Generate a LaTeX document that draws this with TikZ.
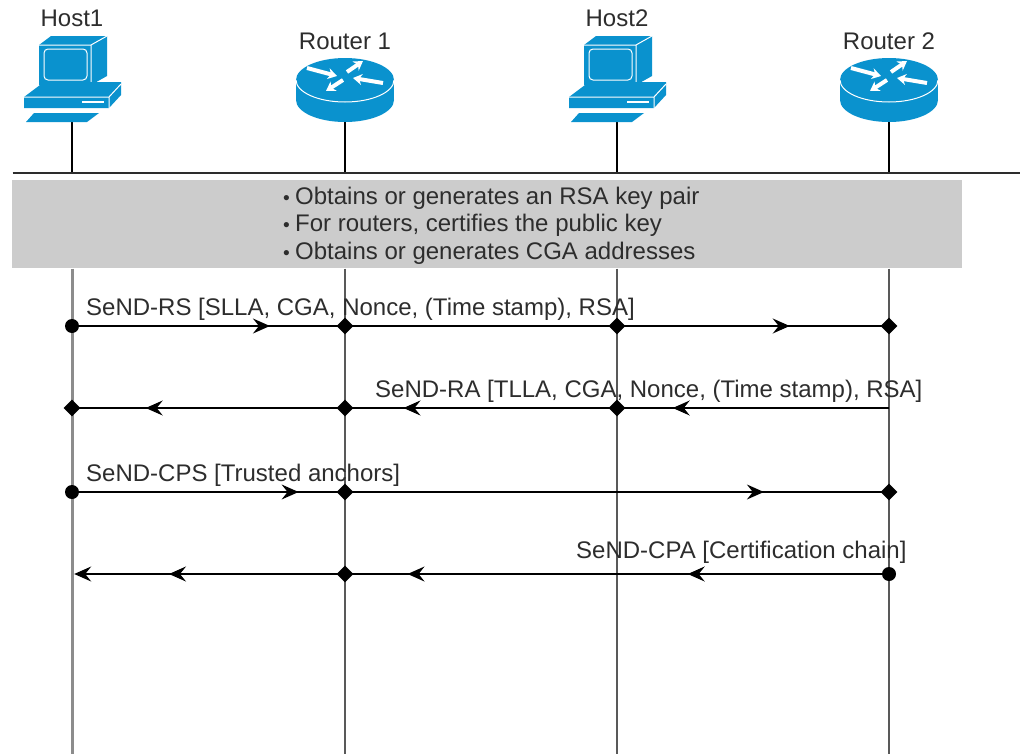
\documentclass[tikz,border=0pt]{standalone}
\usepackage{fontspec}
\setmainfont{Liberation Sans}
\usetikzlibrary{arrows.meta,decorations.markings,shapes.geometric}
\definecolor{icon}{RGB}{10,146,206}
\definecolor{band}{RGB}{204,204,204}
\definecolor{ink}{RGB}{45,45,45}
\tikzset{
  lbl/.style={inner sep=0pt,text=ink,font=\fontsize{24}{27.5}\selectfont},
  circ/.style={circle,fill=black,inner sep=0pt,minimum size=14pt},
  diam/.style={diamond,fill=black,inner sep=0pt,minimum size=17pt},
  tipat/.style={decoration={markings,mark=at position #1 with {\arrow{Stealth[length=17pt,width=15pt,inset=6pt]}}},postaction={decorate}},
  msg/.style={black,line width=1.3pt},
  host/.pic={
    \fill[icon] (-33,-42)--(-21,-51)--(35,-51)--(35,-11)--(19,-2)--(-33,-2)--cycle;
    \draw[white,line width=1pt] (-33,-42)--(19,-42)--(35,-51) (19,-42)--(19,-2);
    \draw[white,line width=1pt,rounded corners=4pt] (-28,-38) rectangle (15,-7);
    \fill[icon] (-48,10)--(-28,-5)--(49,-5)--(49,8)--(37,21)--(-48,21)--cycle;
    \draw[white,line width=1pt] (-48,10)--(37,10)--(49,-3) (37,10)--(37,21);
    \draw[white,line width=1.2pt] (10,15)--(32,15);
    \fill[icon] (-38,26)--(-46,35)--(15,35)--(27,26)--cycle;
  },
  router/.pic={
    \fill[icon] (0,20) ellipse[x radius=49,y radius=22];
    \fill[icon] (-49,0) rectangle (49,20);
    \fill[icon] (0,0) ellipse[x radius=49,y radius=22];
    \draw[white,line width=1pt] (-49,0) arc[start angle=180,end angle=0,x radius=49,y radius=22];
    \foreach \a/\b/\c/\d in {-38/-12/-8/-4, 2/-8/18/-19, 38/3/8/-2, -2/0/-19/11}{
      \draw[white,line width=4pt,-{Stealth[length=9pt,width=11pt]}] (\a,\b)--(\c,\d);
    }
  }
}
\begin{document}
\begin{tikzpicture}[x=1pt,y=-1pt]
  \useasboundingbox (0,0) rectangle (1021,755);
  % band behind the lifelines
  \node[fill=band,inner sep=0pt,minimum width=950pt,minimum height=88pt,anchor=north west] (Band) at (12,180) {};
  \node[inner sep=0pt] (BusL) at (12,173) {};
  \node[inner sep=0pt] (BusR) at (1021,173) {};
  \draw[ink,line width=2.5pt] (BusL)--(BusR);
  % stations
  \foreach \n/\x/\t/\ty in{1/72/Host1/18, 2/345/Router 1/41, 3/617/Host2/18, 4/889/Router 2/41}{
    \node[lbl] (S\n) at (\x,\ty) {\t};
    \node[inner sep=0pt] (T\n) at (\x,120) {};
    \node[inner sep=0pt] (U\n) at (\x,173) {};
    \node[inner sep=0pt] (L\n) at (\x,268) {};
    \node[inner sep=0pt] (B\n) at (\x,755) {};
    \draw[black,line width=1.6pt] (T\n)--(U\n);
  }
  \pic at (72,87) {host};
  \pic at (345,80) {router};
  \pic at (617,87) {host};
  \pic at (889,80) {router};
  \draw[black!45,line width=3pt] (L1)--(B1);
  \foreach \n in{2,3,4}{
    \draw[black!65,line width=1.4pt] (L\n)--(B\n);
  }
  \node[lbl,align=left,anchor=west] (Keys) at (283,225.5) {\makebox[12pt][l]{\scalebox{.8}{\textbullet}}Obtains or generates an RSA key pair\\
    \makebox[12pt][l]{\scalebox{.8}{\textbullet}}For routers, certifies the public key\\
    \makebox[12pt][l]{\scalebox{.8}{\textbullet}}Obtains or generates CGA addresses};
  % message rows
  \foreach \r/\y in{1/326, 2/408, 3/492, 4/574}{
    \foreach \n/\x in{1/72, 2/345, 3/617, 4/889}{
      \coordinate (P\r\n) at (\x,\y);
    }
  }
  \foreach \a/\b/\v in{P11/P12/0.725, P13/P14/0.635, P24/P23/0.795, P23/P22/0.785, P22/P21/0.73, P31/P32/0.83, P32/P34/0.77, P44/P43/0.74, P43/P42/0.77}{
    \draw[msg,tipat=\v] (\a)--(\b);
  }
  \draw[msg] (P12)--(P13);
  \node[inner sep=0pt,minimum size=0pt] (E4) at (74,574) {};
  \draw[msg,tipat=0.65,-{Stealth[length=17pt,width=15pt,inset=6pt]}] (P42)--(E4);
  \foreach \p/\s in{11/circ, 12/diam, 13/diam, 14/diam, 21/diam, 22/diam, 23/diam, 31/circ, 32/diam, 34/diam, 42/diam, 44/circ}{
    \node[\s] (M\p) at (P\p) {};
  }
  \node[lbl,anchor=west] (RS) at (86,309) {SeND-RS [SLLA, CGA, Nonce, (Time stamp), RSA]};
  \node[lbl,anchor=west] (RA) at (375,391) {SeND-RA [TLLA, CGA, Nonce, (Time stamp), RSA]};
  \node[lbl,anchor=west] (CPS) at (86,475) {SeND-CPS [Trusted anchors]};
  \node[lbl,anchor=west] (CPA) at (576,552) {SeND-CPA [Certification chain]};
\end{tikzpicture}
\end{document}
